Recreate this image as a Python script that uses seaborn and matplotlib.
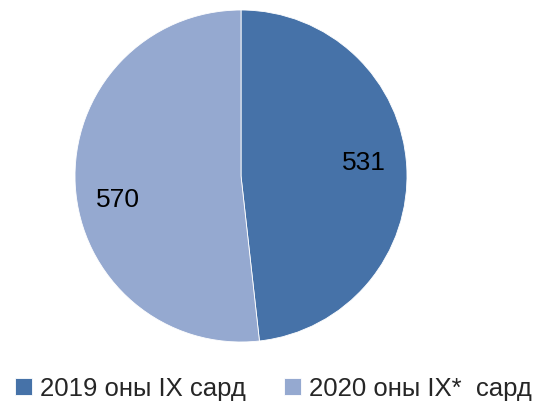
import matplotlib
matplotlib.use("Agg")
import matplotlib.pyplot as plt
import seaborn as sns

# data
labels = ["2019 оны IX сард", "2020 оны IX*  сард"]
values = [531, 570]
colors = ["#4672A8", "#95A9D0"]

sns.set_theme(style="white")
plt.rcParams['font.family'] = ['Liberation Sans', 'DejaVu Sans']

fig = plt.figure(figsize=(5.36, 4.02), dpi=100)
ax = fig.add_axes([75 / 536, 1 - 343 / 402, 332 / 536, 332 / 402])

wedges, texts, autotexts = ax.pie(
    values, colors=colors, startangle=90, counterclock=False,
    autopct=lambda p: f"{p * sum(values) / 100:.0f}", pctdistance=0.74,
    wedgeprops=dict(linewidth=0.6, edgecolor="white"),
    textprops=dict(fontsize=19, color="black"))
# nudge value labels like the original layout
for t, dy in zip(autotexts, [0.045, -0.1]):
    x, y = t.get_position()
    t.set_position((x, y + dy))
ax.set_xlim(-1, 1)
ax.set_ylim(-1, 1)
ax.set_aspect("auto")

fig.legend(wedges, labels, loc="lower center", ncol=2, frameon=False,
           fontsize=18.5, handlelength=0.65, handleheight=0.65, handletextpad=0.3,
           columnspacing=1.5, borderpad=0.0, bbox_to_anchor=(0.51, -0.03))

fig.savefig("out.png", dpi=100)
